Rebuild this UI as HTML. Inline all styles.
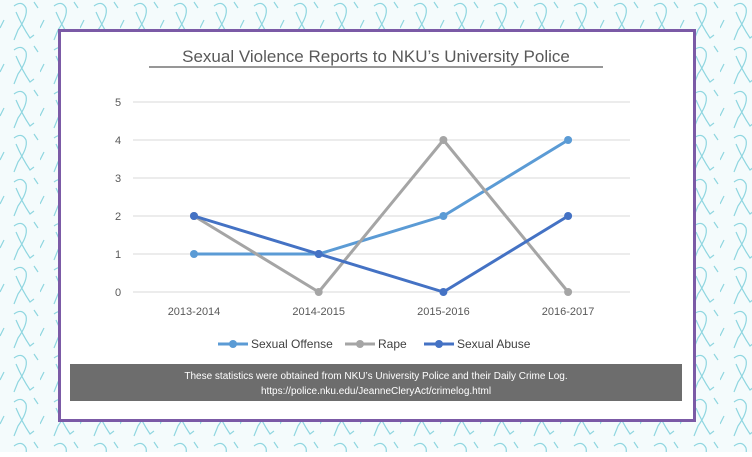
<!DOCTYPE html>
<html><head><meta charset="utf-8"><style>
body{margin:0;width:752px;height:452px;overflow:hidden;font-family:"Liberation Sans",sans-serif;}
</style></head><body>
<svg width="752" height="452" xmlns="http://www.w3.org/2000/svg">
<defs>
<pattern id="rib" width="40" height="44" patternUnits="userSpaceOnUse">
<g fill="none" stroke="#8fd6e0" stroke-width="1.2">
<path d="M14 6 q8 -6 12 2 q2 8 -8 22 l-4 10 M16 12 q6 14 14 26 l4 -3"/>
<path d="M4 20 l-4 8 M34 2 l4 6"/>
</g>
</pattern>
</defs>
<rect width="752" height="452" fill="#f4fbfc"/>
<rect width="752" height="452" fill="url(#rib)"/>
<rect x="59.5" y="30.5" width="635" height="390" fill="#fff" stroke="#7b5aa6" stroke-width="3"/>
<text x="376" y="62" text-anchor="middle" font-size="17" fill="#595959">Sexual Violence Reports to NKU’s University Police</text>
<line x1="149" y1="67" x2="603" y2="67" stroke="#595959" stroke-width="1.2"/>
<g id="grid"></g><g id="series"></g><g id="xl"></g>
<g font-size="12" fill="#404040">
<g><line x1="218" y1="344" x2="248" y2="344" stroke="#5b9bd5" stroke-width="3"/><circle cx="233" cy="344" r="4" fill="#5b9bd5"/><text x="251" y="348">Sexual Offense</text></g>
<g><line x1="345" y1="344" x2="375" y2="344" stroke="#a5a5a5" stroke-width="3"/><circle cx="360" cy="344" r="4" fill="#a5a5a5"/><text x="378" y="348">Rape</text></g>
<g><line x1="424" y1="344" x2="454" y2="344" stroke="#4472c4" stroke-width="3"/><circle cx="439" cy="344" r="4" fill="#4472c4"/><text x="457" y="348">Sexual Abuse</text></g>
</g>
<rect x="70" y="364" width="612" height="37" fill="#6d6d6d"/>
<text x="376" y="379" text-anchor="middle" font-size="10" fill="#fff">These statistics were obtained from NKU’s University Police and their Daily Crime Log.</text>
<text x="376" y="394" text-anchor="middle" font-size="10" fill="#fff">https://police.nku.edu/JeanneCleryAct/crimelog.html</text>
</svg>
<script>
const categories=["2013-2014","2014-2015","2015-2016","2016-2017"];
const yTicks=[0,1,2,3,4,5];
const sexualOffense=[1,1,2,4];
const rape=[2,0,4,0];
const sexualAbuse=[2,1,0,2];
const NS="http://www.w3.org/2000/svg";
const x=i=>194+i*124.7;
const y=v=>292-v*38;
function mk(t,a,p){const e=document.createElementNS(NS,t);for(const k in a)e.setAttribute(k,a[k]);p.appendChild(e);return e;}
const grid=document.getElementById('grid');
yTicks.forEach(v=>{
const l=mk('line',{x1:133,x2:630,y1:y(v),y2:y(v),stroke:'#d9d9d9','stroke-width':1},grid);


const t=mk('text',{x:118,y:y(v)+4,'text-anchor':'middle','font-size':11,fill:'#595959'},grid);
t.textContent=v;


});
const xl=document.getElementById('xl');
categories.forEach((c,i)=>{
const t=mk('text',{x:x(i),y:315,'text-anchor':'middle','font-size':11,fill:'#595959'},xl);
t.textContent=c;


});
const sg=document.getElementById('series');
[[sexualOffense,'#5b9bd5','sexual-offense'],[rape,'#a5a5a5','rape'],[sexualAbuse,'#4472c4','sexual-abuse']].forEach(([d,c,n])=>{
const p=mk('polyline',{points:d.map((v,i)=>x(i)+','+y(v)).join(' '),fill:'none',stroke:c,'stroke-width':3,'stroke-linejoin':'round'},sg);


d.forEach((v,i)=>{
const m=mk('circle',{cx:x(i),cy:y(v),r:4,fill:c},sg);


});
});
</script>
</body></html>
